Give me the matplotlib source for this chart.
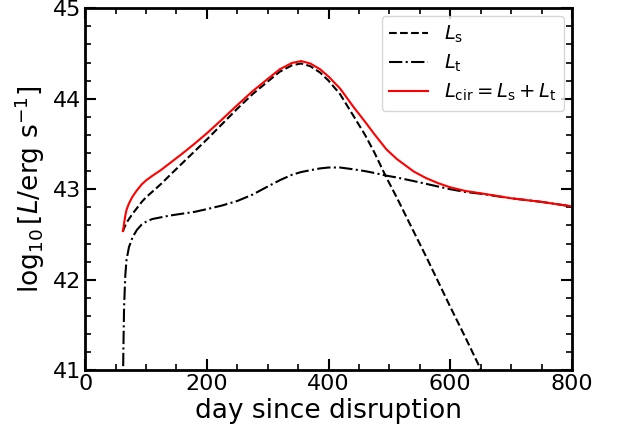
import numpy as np
import matplotlib
matplotlib.use("Agg")
import matplotlib.pyplot as plt
from matplotlib.ticker import MultipleLocator

days = [62, 63, 64, 66, 68, 72, 78, 85, 93, 100, 110, 125, 140, 160, 180, 200,
        225, 250, 275, 300, 320, 340, 355, 370, 386, 400, 419, 441, 460,
        475, 495, 512, 540, 560, 580, 600, 625, 650, 680, 700, 750, 800]

log_Ls = [42.53, 42.55, 42.57, 42.60, 42.63, 42.67, 42.73, 42.79, 42.86, 42.91,
          42.97, 43.06, 43.16, 43.29, 43.42, 43.55, 43.72, 43.89, 44.05, 44.19,
          44.30, 44.37, 44.39, 44.36, 44.29, 44.20, 44.05, 43.81, 43.60,
          43.41, 43.13, 42.91, 42.53, 42.26, 41.98, 41.70, 41.36, 41.01,
          40.60, np.nan, np.nan, np.nan]

log_Lt = [40.8, 41.3, 41.7, 42.05, 42.22, 42.36, 42.47, 42.55, 42.61, 42.64,
          42.67, 42.69, 42.71, 42.73, 42.75, 42.78, 42.82, 42.87, 42.94, 43.03,
          43.10, 43.16, 43.19, 43.21, 43.23, 43.24, 43.24, 43.22, 43.20,
          43.18, 43.15, 43.13, 43.09, 43.06, 43.03, 43.00, 42.97, 42.95,
          42.92, 42.90, 42.86, 42.81]

d = np.array(days, float)
ls = np.array(log_Ls, float)
lt = np.array(log_Lt, float)
lcir = np.log10(np.nan_to_num(10.0**ls, nan=0.0) + 10.0**lt)

fig = plt.figure(figsize=(6.17, 4.36), dpi=100)
ax = fig.add_axes([0.138, 0.151, 0.789, 0.830])

ax.plot(d, ls, 'k--', lw=1.5, label=r'$L_{\rm s}$')
ax.plot(d, lt, 'k-.', lw=1.5, label=r'$L_{\rm t}$')
ax.plot(d, lcir, 'r-', lw=1.5, label=r'$L_{\rm cir}=L_{\rm s}+L_{\rm t}$')

ax.set_xlim(0, 800)
ax.set_ylim(41, 45)
ax.xaxis.set_major_locator(MultipleLocator(200))
ax.xaxis.set_minor_locator(MultipleLocator(50))
ax.yaxis.set_major_locator(MultipleLocator(1))
ax.yaxis.set_minor_locator(MultipleLocator(0.2))
ax.tick_params(which='both', direction='in', top=True, right=True)
ax.tick_params(which='major', length=8, width=1.5, labelsize=16, pad=3)
ax.tick_params(which='minor', length=4, width=1.2)
for s in ax.spines.values():
    s.set_linewidth(2)

ax.set_xlabel('day since disruption', fontsize=19, labelpad=3)
ax.set_ylabel(r'$\log_{10}[L/{\rm erg\ s^{-1}}]$', fontsize=19, labelpad=4)

ax.legend(loc='upper right', fontsize=14, frameon=True, handlelength=2.0,
          labelspacing=0.4, borderaxespad=0.4)

fig.savefig('out.png', dpi=100)
